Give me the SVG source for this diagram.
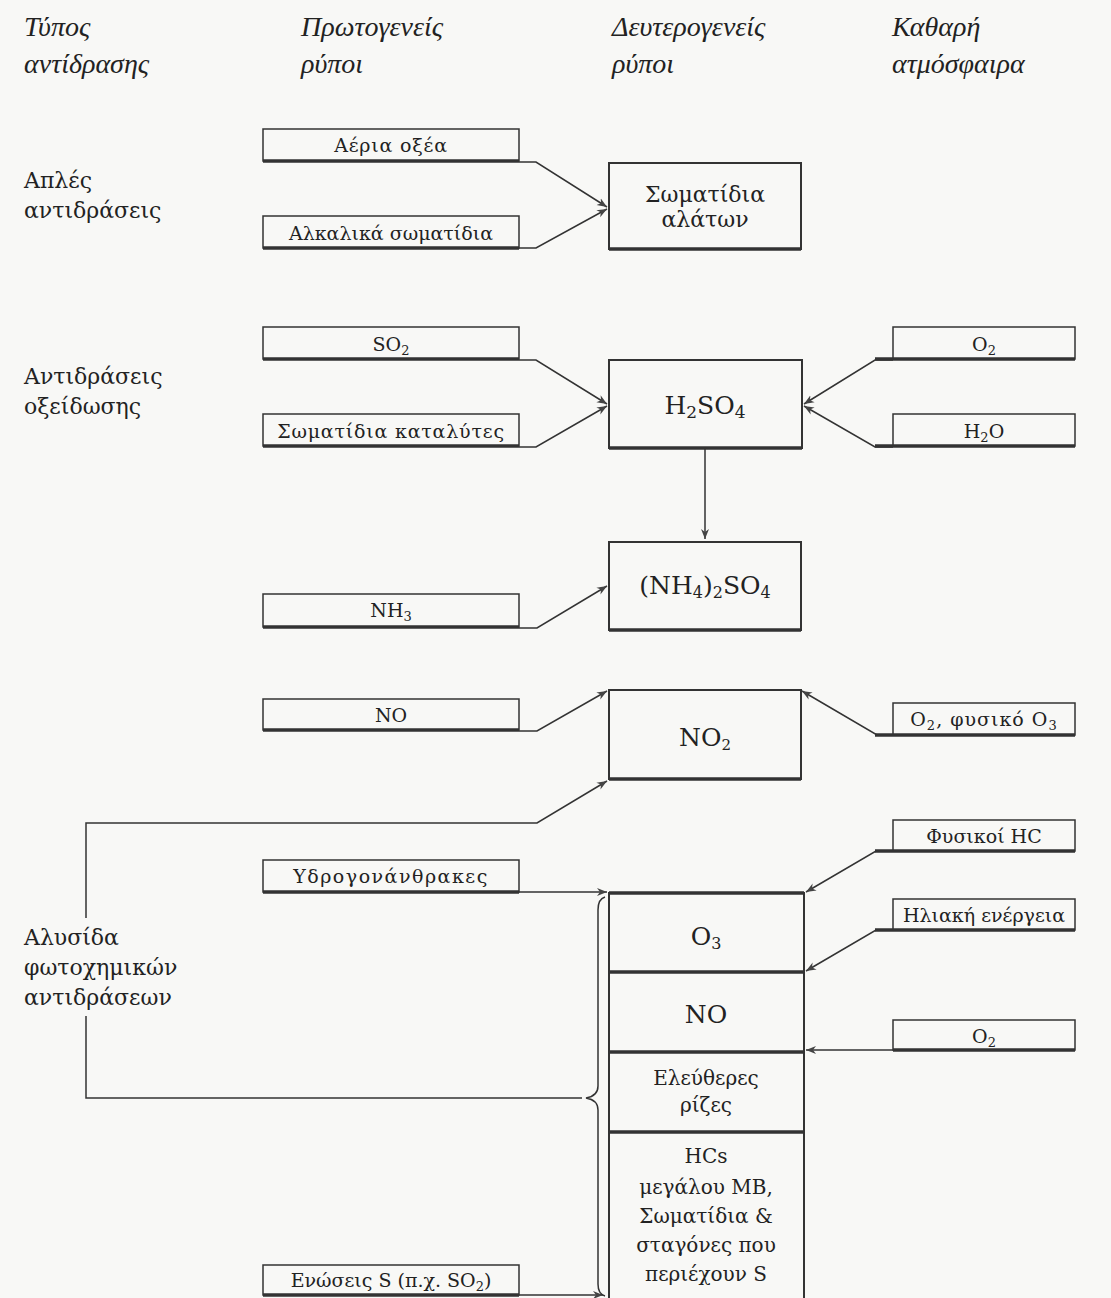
<svg xmlns="http://www.w3.org/2000/svg" width="1111" height="1298" viewBox="0 0 1111 1298">
<defs>
<marker id="arr" markerUnits="userSpaceOnUse" markerWidth="12" markerHeight="10" refX="10" refY="5" orient="auto">
<path d="M0,1 L10,5 L0,9 L3,5 Z" fill="#444"/>
</marker>
<style>
.hdr{font-family:"Liberation Serif",serif;font-style:italic;font-size:28px;fill:#222}
.lbl{font-family:"DejaVu Serif","Liberation Serif",serif;font-size:22px;fill:#222}
.bt{font-family:"DejaVu Serif","Liberation Serif",serif;font-size:19px;fill:#222;text-anchor:middle}
.ct{font-family:"DejaVu Serif","Liberation Serif",serif;font-size:25px;fill:#222;text-anchor:middle}
.cs{font-family:"DejaVu Serif","Liberation Serif",serif;font-size:22px;fill:#222;text-anchor:middle}
.st{font-family:"DejaVu Serif","Liberation Serif",serif;font-size:20px;fill:#222;text-anchor:middle}
.box{fill:none;stroke:#333;stroke-width:1.5}
.cbox{fill:none;stroke:#333;stroke-width:2}
.shadow{stroke:#333;stroke-width:3.5;fill:none}
.con{fill:none;stroke:#333;stroke-width:1.5}
</style>
</defs>
<rect width="1111" height="1298" fill="#f8f8f6"/>

<g id="headers">
<text class="hdr" x="24" y="36">Τύπος</text>
<text class="hdr" x="24" y="73">αντίδρασης</text>
<text class="hdr" x="301" y="36">Πρωτογενείς</text>
<text class="hdr" x="301" y="73">ρύποι</text>
<text class="hdr" x="612" y="36">Δευτερογενείς</text>
<text class="hdr" x="612" y="73">ρύποι</text>
<text class="hdr" x="892" y="36">Καθαρή</text>
<text class="hdr" x="892" y="73">ατμόσφαιρα</text>
</g>

<g id="type-labels">
<text class="lbl" x="24" y="188">Απλές</text>
<text class="lbl" x="24" y="218">αντιδράσεις</text>
<text class="lbl" x="24" y="384">Αντιδράσεις</text>
<text class="lbl" x="24" y="414">οξείδωσης</text>
<text class="lbl" x="24" y="945">Αλυσίδα</text>
<text class="lbl" x="24" y="975">φωτοχημικών</text>
<text class="lbl" x="24" y="1005">αντιδράσεων</text>
</g>

<g id="connectors">
<path class="con" d="M519,162 H536 L607,207" marker-end="url(#arr)"/>
<path class="con" d="M519,248 H536 L607,209" marker-end="url(#arr)"/>
<path class="con" d="M519,360 H536 L607,404" marker-end="url(#arr)"/>
<path class="con" d="M519,447 H536 L607,406" marker-end="url(#arr)"/>
<path class="con" d="M893,360 H875 L804,404" marker-end="url(#arr)"/>
<path class="con" d="M893,447 H875 L804,406" marker-end="url(#arr)"/>
<path class="con" d="M705,449 V539" marker-end="url(#arr)"/>
<path class="con" d="M519,628 H537 L607,586" marker-end="url(#arr)"/>
<path class="con" d="M519,731 H537 L607,691" marker-end="url(#arr)"/>
<path class="con" d="M893,735 H877 L802,691" marker-end="url(#arr)"/>
<path class="con" d="M582,1098 H86 V1016 M86,918 V823 H537 L607,781" marker-end="url(#arr)"/>
<path class="con" d="M519,892 H607" marker-end="url(#arr)"/>
<path class="con" d="M893,851 H876 L806,892" marker-end="url(#arr)"/>
<path class="con" d="M893,930 H876 L806,971" marker-end="url(#arr)"/>
<path class="con" d="M893,1050 H806" marker-end="url(#arr)"/>
<path class="con" d="M519,1295 H603" marker-end="url(#arr)"/>
<path class="con" d="M605,897 Q598,899 598,910 V1086 Q598,1096 586,1098 Q598,1100 598,1110 V1284 Q598,1294 605,1296"/>
</g>

<g id="n-aeria">
<rect class="box" x="263" y="129" width="256" height="32"/>
<line class="shadow" x1="263" y1="161" x2="519" y2="161"/>
<text class="bt" x="391" y="152" letter-spacing="0.8">Αέρια οξέα</text>
</g>
<g id="n-alkalika">
<rect class="box" x="263" y="216" width="256" height="32"/>
<line class="shadow" x1="263" y1="248" x2="519" y2="248"/>
<text class="bt" x="391" y="240">Αλκαλικά σωματίδια</text>
</g>
<g id="n-alaton">
<rect class="cbox" x="609" y="163" width="192" height="86"/>
<line class="shadow" x1="609" y1="249" x2="801" y2="249"/>
<text class="cs" x="705" y="202">Σωματίδια</text>
<text class="cs" x="705" y="227">αλάτων</text>
</g>

<g id="n-so2">
<rect class="box" x="263" y="327" width="256" height="32"/>
<line class="shadow" x1="263" y1="359" x2="519" y2="359"/>
<text class="bt" x="391" y="351">SO<tspan font-size="13" dy="4">2</tspan></text>
</g>
<g id="n-katalytes">
<rect class="box" x="263" y="414" width="256" height="32"/>
<line class="shadow" x1="263" y1="446" x2="519" y2="446"/>
<text class="bt" x="391" y="438" letter-spacing="0.8">Σωματίδια καταλύτες</text>
</g>
<g id="n-h2so4">
<rect class="cbox" x="609" y="360" width="193" height="88"/>
<line class="shadow" x1="609" y1="448" x2="802" y2="448"/>
<text class="ct" x="705" y="414">H<tspan font-size="17" dy="4">2</tspan><tspan dy="-4">SO</tspan><tspan font-size="17" dy="4">4</tspan></text>
</g>
<g id="n-o2a">
<rect class="box" x="893" y="327" width="182" height="32"/>
<line class="shadow" x1="875" y1="359" x2="1075" y2="359"/>
<text class="bt" x="984" y="351">O<tspan font-size="13" dy="4">2</tspan></text>
</g>
<g id="n-h2o">
<rect class="box" x="893" y="414" width="182" height="32"/>
<line class="shadow" x1="875" y1="446" x2="1075" y2="446"/>
<text class="bt" x="984" y="438">H<tspan font-size="13" dy="4">2</tspan><tspan dy="-4">O</tspan></text>
</g>

<g id="n-nh3">
<rect class="box" x="263" y="594" width="256" height="33"/>
<line class="shadow" x1="263" y1="627" x2="519" y2="627"/>
<text class="bt" x="391" y="617">NH<tspan font-size="13" dy="4">3</tspan></text>
</g>
<g id="n-nh4so4">
<rect class="cbox" x="609" y="542" width="192" height="88"/>
<line class="shadow" x1="609" y1="630" x2="801" y2="630"/>
<text class="ct" x="705" y="594">(NH<tspan font-size="16" dy="4">4</tspan><tspan dy="-4">)</tspan><tspan font-size="16" dy="4">2</tspan><tspan dy="-4">SO</tspan><tspan font-size="16" dy="4">4</tspan></text>
</g>

<g id="n-no">
<rect class="box" x="263" y="699" width="256" height="31"/>
<line class="shadow" x1="263" y1="730" x2="519" y2="730"/>
<text class="bt" x="391" y="722">NO</text>
</g>
<g id="n-no2">
<rect class="cbox" x="609" y="690" width="192" height="89"/>
<line class="shadow" x1="609" y1="779" x2="801" y2="779"/>
<text class="ct" x="705" y="746" font-size="22">NO<tspan font-size="15" dy="4">2</tspan></text>
</g>
<g id="n-o2o3">
<rect class="box" x="893" y="703" width="182" height="32"/>
<line class="shadow" x1="875" y1="735" x2="1075" y2="735"/>
<text class="bt" x="984" y="726" letter-spacing="1">O<tspan font-size="13" dy="4">2</tspan><tspan dy="-4">, φυσικό O</tspan><tspan font-size="13" dy="4">3</tspan></text>
</g>

<g id="n-ydrogon">
<rect class="box" x="263" y="860" width="256" height="32"/>
<line class="shadow" x1="263" y1="892" x2="519" y2="892"/>
<text class="bt" x="391" y="883" letter-spacing="1.5">Υδρογονάνθρακες</text>
</g>
<g id="n-fysikoi-hc">
<rect class="box" x="893" y="820" width="182" height="31"/>
<line class="shadow" x1="875" y1="851" x2="1075" y2="851"/>
<text class="bt" x="984" y="843">Φυσικοί HC</text>
</g>
<g id="n-iliaki">
<rect class="box" x="893" y="899" width="182" height="31"/>
<line class="shadow" x1="875" y1="930" x2="1075" y2="930"/>
<text class="bt" x="984" y="922">Ηλιακή ενέργεια</text>
</g>
<g id="n-o2b">
<rect class="box" x="893" y="1020" width="182" height="30"/>
<line class="shadow" x1="893" y1="1050" x2="1075" y2="1050"/>
<text class="bt" x="984" y="1043">O<tspan font-size="13" dy="4">2</tspan></text>
</g>
<g id="n-enoseis">
<rect class="box" x="263" y="1265" width="256" height="30"/>
<line class="shadow" x1="263" y1="1295" x2="519" y2="1295"/>
<text class="bt" x="391" y="1287">Ενώσεις S (π.χ. SO<tspan font-size="13" dy="4">2</tspan><tspan dy="-4">)</tspan></text>
</g>

<g id="n-stack">
<path class="cbox" d="M609,1300 V893 H804 V1300"/>
<line class="shadow" x1="609" y1="893" x2="804" y2="893"/>
<line class="shadow" x1="609" y1="972" x2="804" y2="972"/>
<line class="shadow" x1="609" y1="1052" x2="804" y2="1052"/>
<line class="shadow" x1="609" y1="1132" x2="804" y2="1132"/>
<text class="ct" x="706" y="945">O<tspan font-size="16" dy="4">3</tspan></text>
<text class="ct" x="706" y="1023">NO</text>
<text class="st" x="706" y="1085">Ελεύθερες</text>
<text class="st" x="706" y="1112">ρίζες</text>
<text class="st" x="706" y="1163">HCs</text>
<text class="st" x="706" y="1194">μεγάλου MB,</text>
<text class="st" x="706" y="1223">Σωματίδια &amp;</text>
<text class="st" x="706" y="1252">σταγόνες που</text>
<text class="st" x="706" y="1281">περιέχουν S</text>
</g>
</svg>
